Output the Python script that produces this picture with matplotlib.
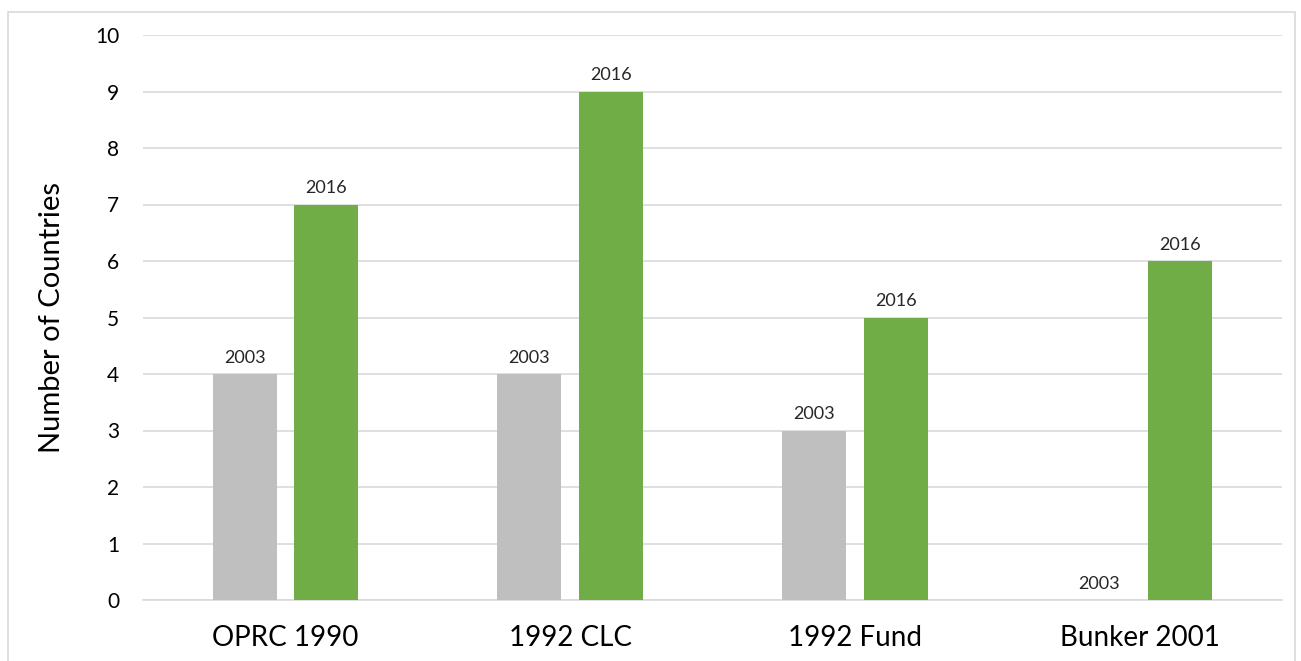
import matplotlib.pyplot as plt
from matplotlib.patches import Rectangle
import numpy as np

plt.rcParams['font.family'] = ['Lato', 'DejaVu Sans']

categories = ["OPRC 1990", "1992 CLC", "1992 Fund", "Bunker 2001"]
values_2003 = [4, 4, 3, 0]
values_2016 = [7, 9, 5, 6]
series_labels = ["2003", "2016"]

fig = plt.figure(figsize=(13.01, 6.61), dpi=100)
ax = fig.add_axes([143 / 1301, 61 / 661, 1139 / 1301, 565 / 661])

# border around the whole chart
fig.patches.append(Rectangle((8 / 1301, -0.01), 1287 / 1301, 1 - 12 / 661 + 0.01,
                             transform=fig.transFigure, fill=False,
                             edgecolor="#d9d9d9", linewidth=1.2))

x = np.arange(len(categories))
w = 0.225
off = 0.143
b1 = ax.bar(x - off, values_2003, w, color="#bfbfbf", zorder=3)
b2 = ax.bar(x + off, values_2016, w, color="#70ad47", zorder=3)

for bars, lab in [(b1, series_labels[0]), (b2, series_labels[1])]:
    for b in bars:
        ax.annotate(lab, (b.get_x() + b.get_width() / 2, b.get_height()),
                    xytext=(0, 6), textcoords="offset points",
                    ha="center", va="bottom", fontsize=13, color="#262626")

ax.set_xlim(-0.5, len(categories) - 0.5)
ax.set_ylim(0, 10)
ax.set_yticks(range(0, 11))
ax.set_xticks(x)
ax.set_xticklabels(categories, fontsize=20, color="#000000")
ax.tick_params(axis="y", labelsize=15, length=0, pad=17)
ax.tick_params(axis="x", length=0, pad=18)
ax.grid(axis="y", color="#d9d9d9", linewidth=1.2, zorder=0)
for s in ["top", "right", "left"]:
    ax.spines[s].set_visible(False)
ax.spines["bottom"].set_color("#d9d9d9")
ax.spines["bottom"].set_linewidth(1.2)
ax.set_ylabel("Number of Countries", fontsize=21, labelpad=22)

fig.savefig("out.png", dpi=100)
